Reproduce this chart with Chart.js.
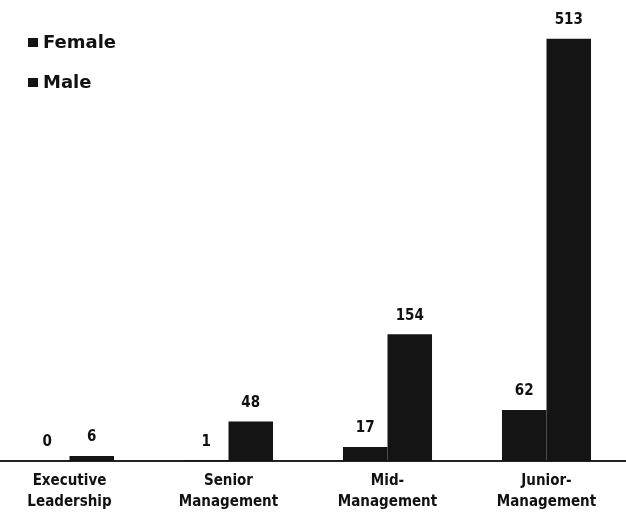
<!DOCTYPE html>
<html>
<head>
<meta charset="utf-8">
<script src="https://cdn.jsdelivr.net/npm/chart.js@4/dist/chart.umd.min.js"></script>
<style>
  html, body { margin: 0; padding: 0; background: #fff; overflow: hidden; }
  .wrap { position: relative; width: 636px; height: 515px; margin-left: -10px; }
</style>
</head>
<body>
<div class="wrap"><canvas id="bars"></canvas></div>
<script>
// chart data
const levels = [
  ["Executive", "Leadership"],
  ["Senior", "Management"],
  ["Mid-", "Management"],
  ["Junior-", "Management"]
];
const female = [0, 1, 17, 62];
const male = [6, 48, 154, 513];

const FONT = '"Liberation Sans Narrow", "DejaVu Sans Condensed", "Roboto Condensed", sans-serif';

// numbers above each bar
const valueLabels = {
  id: "valueLabels",
  afterDatasetsDraw(chart) {
    const ctx = chart.ctx;
    ctx.save();
    ctx.fillStyle = "#111";
    ctx.font = "bold 15px " + FONT;
    ctx.textAlign = "center";
    ctx.textBaseline = "bottom";
    chart.data.datasets.forEach((ds, i) => {
      chart.getDatasetMeta(i).data.forEach((bar, j) => {
        ctx.fillText(ds.data[j], bar.x, bar.y - 11);
      });
    });
    ctx.restore();
  }
};

// stacked legend in the top-left corner, square marker + label
const cornerLegend = {
  id: "cornerLegend",
  afterDraw(chart) {
    const ctx = chart.ctx;
    const left = chart.chartArea.left + 38;
    ctx.save();
    ctx.font = 'bold 18px "DejaVu Sans", sans-serif';
    ctx.textBaseline = "middle";
    chart.data.datasets.forEach((ds, i) => {
      const y = 43 + i * 40;
      ctx.fillStyle = ds.backgroundColor;
      ctx.fillRect(left, y - 5, 10, 9);
      ctx.fillStyle = "#111";
      ctx.fillText(ds.label, left + 15, y);
    });
    ctx.restore();
  }
};

new Chart(document.getElementById("bars"), {
  type: "bar",
  data: {
    labels: levels,
    datasets: [
      { label: "Female", data: female, backgroundColor: "#141414", borderWidth: 0 },
      { label: "Male", data: male, backgroundColor: "#141414", borderWidth: 0 }
    ]
  },
  options: {
    responsive: true,
    maintainAspectRatio: false,
    animation: false,
    categoryPercentage: 0.56,
    barPercentage: 1.0,
    layout: { padding: { top: 0, bottom: 0, left: 0, right: 0 } },
    plugins: {
      tooltip: { enabled: false },
      legend: { display: false }
    },
    scales: {
      x: {
        grid: { display: false },
        border: { display: true, color: "#222", width: 2 },
        ticks: {
          color: "#111",
          font: { family: FONT, size: 15, weight: "bold", lineHeight: 1.4 },
          padding: 2,
          maxRotation: 0
        }
      },
      y: {
        display: false,
        min: 0,
        max: 560
      }
    }
  },
  plugins: [valueLabels, cornerLegend]
});
</script>
</body>
</html>
